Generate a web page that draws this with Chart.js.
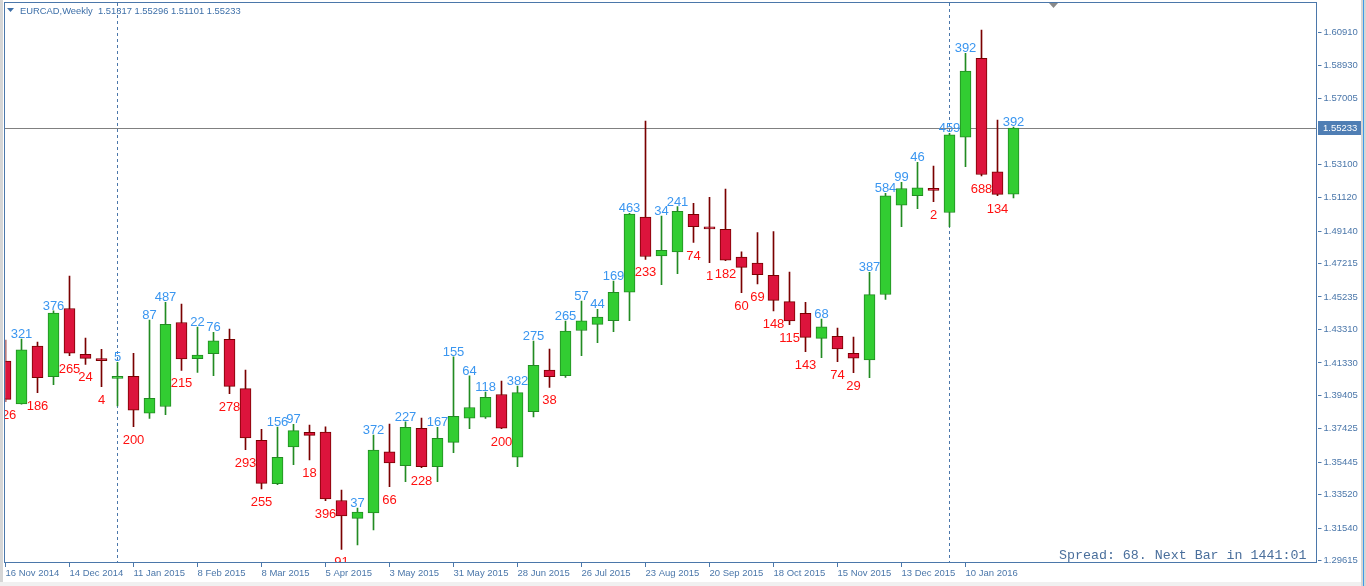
<!DOCTYPE html>
<html>
<head>
<meta charset="utf-8">
<title>EURCAD,Weekly</title>
<script src="https://cdn.jsdelivr.net/npm/chart.js@4.4.1/dist/chart.umd.min.js"></script>
<style>
  html, body { margin: 0; padding: 0; background: #ffffff; overflow: hidden; }
  #wrap { position: relative; width: 1366px; height: 586px; }
</style>
</head>
<body>
<div id="wrap"><canvas id="mtChart"></canvas></div>
<script>
// weekly candles, 16 Nov 2014 .. 10 Jan 2016
const opens  = [1.41442, 1.38900, 1.42322, 1.40521, 1.44553, 1.41839, 1.41501, 1.40417, 1.40536, 1.38360,
                1.38750, 1.43720, 1.41580, 1.41870, 1.42727, 1.39810, 1.36745, 1.34180, 1.36350, 1.37219,
                1.37240, 1.33180, 1.32125, 1.32450, 1.36070, 1.35241, 1.37456, 1.35190, 1.36620, 1.38050,
                1.38110, 1.39460, 1.35750, 1.38437, 1.40900, 1.40571, 1.43250, 1.43610, 1.43825, 1.45520,
                1.49960, 1.47660, 1.47900, 1.50131, 1.49278, 1.49240, 1.47590, 1.47240, 1.46518, 1.44960,
                1.44270, 1.42780, 1.42900, 1.41895, 1.41500, 1.45380, 1.50670, 1.51240, 1.51570, 1.50240,
                1.54700, 1.59370, 1.52651, 1.51317];
const highs  = [1.42686, 1.42745, 1.42567, 1.44421, 1.46476, 1.42804, 1.42135, 1.41365, 1.41898, 1.43870,
                1.44918, 1.44818, 1.43456, 1.43142, 1.43337, 1.40909, 1.37396, 1.37533, 1.37693, 1.37651,
                1.37551, 1.33802, 1.32735, 1.37059, 1.37710, 1.37847, 1.38066, 1.37515, 1.41696, 1.40571,
                1.39606, 1.40257, 1.39961, 1.42626, 1.42153, 1.43811, 1.44995, 1.44504, 1.46180, 1.50190,
                1.55656, 1.50030, 1.50581, 1.50782, 1.51137, 1.51629, 1.47915, 1.49041, 1.49100, 1.46713,
                1.44918, 1.43929, 1.43396, 1.42863, 1.46695, 1.51374, 1.52026, 1.53210, 1.52991, 1.54928,
                1.59666, 1.61046, 1.55716, 1.55296];
const lows   = [1.39031, 1.38890, 1.39564, 1.40038, 1.41756, 1.41246, 1.39920, 1.38777, 1.37551, 1.38048,
                1.38261, 1.40891, 1.40772, 1.40571, 1.39505, 1.36188, 1.33861, 1.34115, 1.35300, 1.35578,
                1.33167, 1.30289, 1.30544, 1.31432, 1.33997, 1.34293, 1.35122, 1.34293, 1.36011, 1.37432,
                1.38048, 1.37440, 1.35181, 1.38125, 1.39884, 1.40476, 1.41756, 1.42526, 1.43177, 1.43829,
                1.47465, 1.45961, 1.46612, 1.48460, 1.47264, 1.47380, 1.45487, 1.46002, 1.44403, 1.43592,
                1.41992, 1.41637, 1.41400, 1.40749, 1.40453, 1.45096, 1.49396, 1.50462, 1.50877, 1.49396,
                1.52950, 1.52399, 1.51232, 1.51101];
const closes = [1.39173, 1.42110, 1.40462, 1.44281, 1.41903, 1.41602, 1.41461, 1.40467, 1.38536, 1.39230,
                1.43620, 1.41570, 1.41800, 1.42630, 1.39943, 1.36880, 1.34198, 1.35740, 1.37320, 1.37041,
                1.33280, 1.32270, 1.32498, 1.36170, 1.35410, 1.37515, 1.35181, 1.36860, 1.38170, 1.38690,
                1.39290, 1.37460, 1.39570, 1.41187, 1.40520, 1.43219, 1.43820, 1.44050, 1.45515, 1.50150,
                1.47630, 1.48000, 1.50310, 1.49396, 1.49268, 1.47420, 1.46990, 1.46550, 1.45037, 1.43810,
                1.42840, 1.43460, 1.42160, 1.41605, 1.45370, 1.51220, 1.51660, 1.51700, 1.51550, 1.54830,
                1.58620, 1.52490, 1.51311, 1.55233];
// body size in pips, as printed on the chart
const pipLabels = [226, 321, 186, 376, 265, 24, 4, 5, 200, 87,
                   487, 215, 22, 76, 278, 293, 255, 156, 97, 18,
                   396, 91, 37, 372, 66, 227, 228, 167, 155, 64,
                   118, 200, 382, 275, 38, 265, 57, 44, 169, 463,
                   233, 34, 241, 74, 1, 182, 60, 69, 148, 115,
                   143, 68, 74, 29, 387, 584, 99, 46, 2, 459,
                   392, 688, 134, 392];
const dateTicks = ['16 Nov 2014', '14 Dec 2014', '11 Jan 2015', '8 Feb 2015', '8 Mar 2015', '5 Apr 2015',
                   '3 May 2015', '31 May 2015', '28 Jun 2015', '26 Jul 2015', '23 Aug 2015', '20 Sep 2015',
                   '18 Oct 2015', '15 Nov 2015', '13 Dec 2015', '10 Jan 2016'];
const priceTicks = [1.60910, 1.58930, 1.57005, 1.53100, 1.51120, 1.49140, 1.47215, 1.45235,
                    1.43310, 1.41330, 1.39405, 1.37425, 1.35445, 1.33520, 1.31540, 1.29615];
const separators = [7, 59];       // first bar of 2015 / 2016
const bidPrice = 1.55233;
const priceMin = 1.29479, priceMax = 1.62645;
const totalSlots = 83;            // bars + empty shift space on the right

const axisColor = '#4b77aa';
const upFill = '#32cd32', upLine = '#228b22';
const dnFill = '#dc143c', dnLine = '#7a0000';
const upText = '#3a96f0', dnText = '#ff1010';

const isUp = opens.map((o, i) => closes[i] >= o);
const xLabels = [];
for (let i = 0; i < totalSlots; i++) {
    xLabels.push(i % 4 === 0 && i / 4 < dateTicks.length ? dateTicks[i / 4] : '');
}

// frame, separators, bid line (behind the candles)
const backdrop = {
    id: 'backdrop',
    beforeDatasetsDraw(chart) {
        const { ctx, scales: { x, y } } = chart;
        ctx.save();
        ctx.strokeStyle = axisColor;
        ctx.lineWidth = 1;
        ctx.setLineDash([3, 3]);
        separators.forEach(i => {
            const px = Math.floor(x.getPixelForValue(i)) + 0.5;
            ctx.beginPath();
            ctx.moveTo(px, 3);
            ctx.lineTo(px, 562);
            ctx.stroke();
        });
        ctx.setLineDash([]);
        ctx.strokeStyle = '#808080';
        const py = Math.round(y.getPixelForValue(bidPrice)) + 0.5;
        ctx.beginPath();
        ctx.moveTo(5, py);
        ctx.lineTo(1317, py);
        ctx.stroke();
        ctx.restore();
    },
    afterDraw(chart) {
        const { ctx, scales: { y } } = chart;
        ctx.save();
        // window edges
        ctx.fillStyle = '#d6d6d6';
        ctx.fillRect(0, 0, 3, 586);
        ctx.fillRect(1361, 0, 5, 586);
        ctx.fillStyle = '#f0f0f0';
        ctx.fillRect(0, 582, 1361, 4);
        ctx.strokeStyle = '#3c9be8';
        ctx.beginPath();
        ctx.moveTo(1363.5, 0);
        ctx.lineTo(1363.5, 586);
        ctx.stroke();
        // chart frame
        ctx.strokeStyle = axisColor;
        ctx.strokeRect(4.5, 2.5, 1312, 560);
        // bid price tag
        const py = Math.round(y.getPixelForValue(bidPrice));
        ctx.fillStyle = '#4f7eb4';
        ctx.fillRect(1318, py - 7, 43, 14);
        ctx.fillStyle = '#ffffff';
        ctx.font = '9.5px "Liberation Sans"';
        ctx.textBaseline = 'middle';
        ctx.fillText(bidPrice.toFixed(5), 1323, py + 0.5);
        // header
        ctx.fillStyle = '#3d6fa8';
        ctx.beginPath();
        ctx.moveTo(7, 8); ctx.lineTo(14, 8); ctx.lineTo(10.5, 12);
        ctx.fill();
        ctx.font = '9.4px "Liberation Sans"';
        ctx.textBaseline = 'alphabetic';
        ctx.fillText('EURCAD,Weekly  ' + [opens[63], highs[63], lows[63], closes[63]].map(v => v.toFixed(5)).join(' '), 20, 14);
        // shift marker
        ctx.fillStyle = '#8a8a8a';
        ctx.beginPath();
        ctx.moveTo(1049, 3); ctx.lineTo(1058, 3); ctx.lineTo(1053.5, 8);
        ctx.fill();
        // spread / timer
        ctx.fillStyle = '#4a6f9c';
        ctx.font = '13.3px "Liberation Mono"';
        ctx.fillText('Spread: 68. Next Bar in 1441:01', 1059, 559);
        ctx.restore();
    }
};

// pip counts above bull bars, below bear bars
const candleLabels = {
    id: 'candleLabels',
    afterDatasetsDraw(chart) {
        const { ctx, chartArea: a, scales: { x, y } } = chart;
        ctx.save();
        ctx.beginPath();
        ctx.rect(5, a.top, a.right - 5, a.bottom - a.top);
        ctx.clip();
        ctx.font = '13px "Liberation Sans"';
        ctx.textAlign = 'center';
        ctx.textBaseline = 'alphabetic';
        pipLabels.forEach((p, i) => {
            const px = x.getPixelForValue(i);
            if (isUp[i]) {
                ctx.fillStyle = upText;
                ctx.fillText(String(p), px, y.getPixelForValue(highs[i]) - 1);
            } else {
                ctx.fillStyle = dnText;
                ctx.fillText(String(p), px, y.getPixelForValue(lows[i]) + 17);
            }
        });
        ctx.restore();
    }
};

Chart.defaults.font.family = '"Liberation Sans", Arial, sans-serif';

new Chart(document.getElementById('mtChart'), {
    type: 'bar',
    data: {
        labels: xLabels,
        datasets: [{
            // bodies (dataset 0 is painted last, on top of wicks)
            data: opens.map((o, i) => [o, closes[i]]),
            backgroundColor: isUp.map(u => u ? upFill : dnFill),
            borderColor: isUp.map(u => u ? upLine : dnLine),
            borderWidth: 1,
            borderSkipped: false,
            barThickness: 11,
            minBarLength: 2,
            grouped: false
        }, {
            // wicks
            data: lows.map((l, i) => [l, highs[i]]),
            backgroundColor: isUp.map(u => u ? upLine : dnLine),
            borderWidth: 0,
            barThickness: 1,
            grouped: false
        }]
    },
    options: {
        responsive: true,
        maintainAspectRatio: false,
        animation: false,
        layout: { padding: { left: 5.5, top: 3, right: 0, bottom: 0 } },
        plugins: {
            legend: { display: false },
            tooltip: { enabled: false }
        },
        scales: {
            x: {
                offset: false,
                grid: {
                    offset: false,
                    drawOnChartArea: false,
                    tickLength: 4,
                    color: ctx => (ctx.tick && ctx.tick.label) ? axisColor : 'rgba(0,0,0,0)'
                },
                border: { display: false },
                ticks: {
                    autoSkip: false,
                    maxRotation: 0,
                    align: 'start',
                    padding: 1,
                    color: axisColor,
                    font: { size: 9.5 }
                },
                afterFit(scale) {
                    scale.height = 23;
                    scale.paddingLeft = 0;
                    scale.paddingRight = 0;
                }
            },
            y: {
                position: 'right',
                min: priceMin,
                max: priceMax,
                grid: { drawOnChartArea: false, tickLength: 4, color: axisColor },
                border: { display: false },
                ticks: {
                    padding: 2,
                    color: axisColor,
                    font: { size: 9.5 },
                    callback: v => v.toFixed(5)
                },
                afterBuildTicks(scale) {
                    scale.ticks = priceTicks.map(v => ({ value: v }));
                },
                afterFit(scale) {
                    scale.width = 48.5;
                    scale.paddingTop = 0;
                    scale.paddingBottom = 0;
                }
            }
        }
    },
    plugins: [backdrop, candleLabels]
});
</script>
</body>
</html>
